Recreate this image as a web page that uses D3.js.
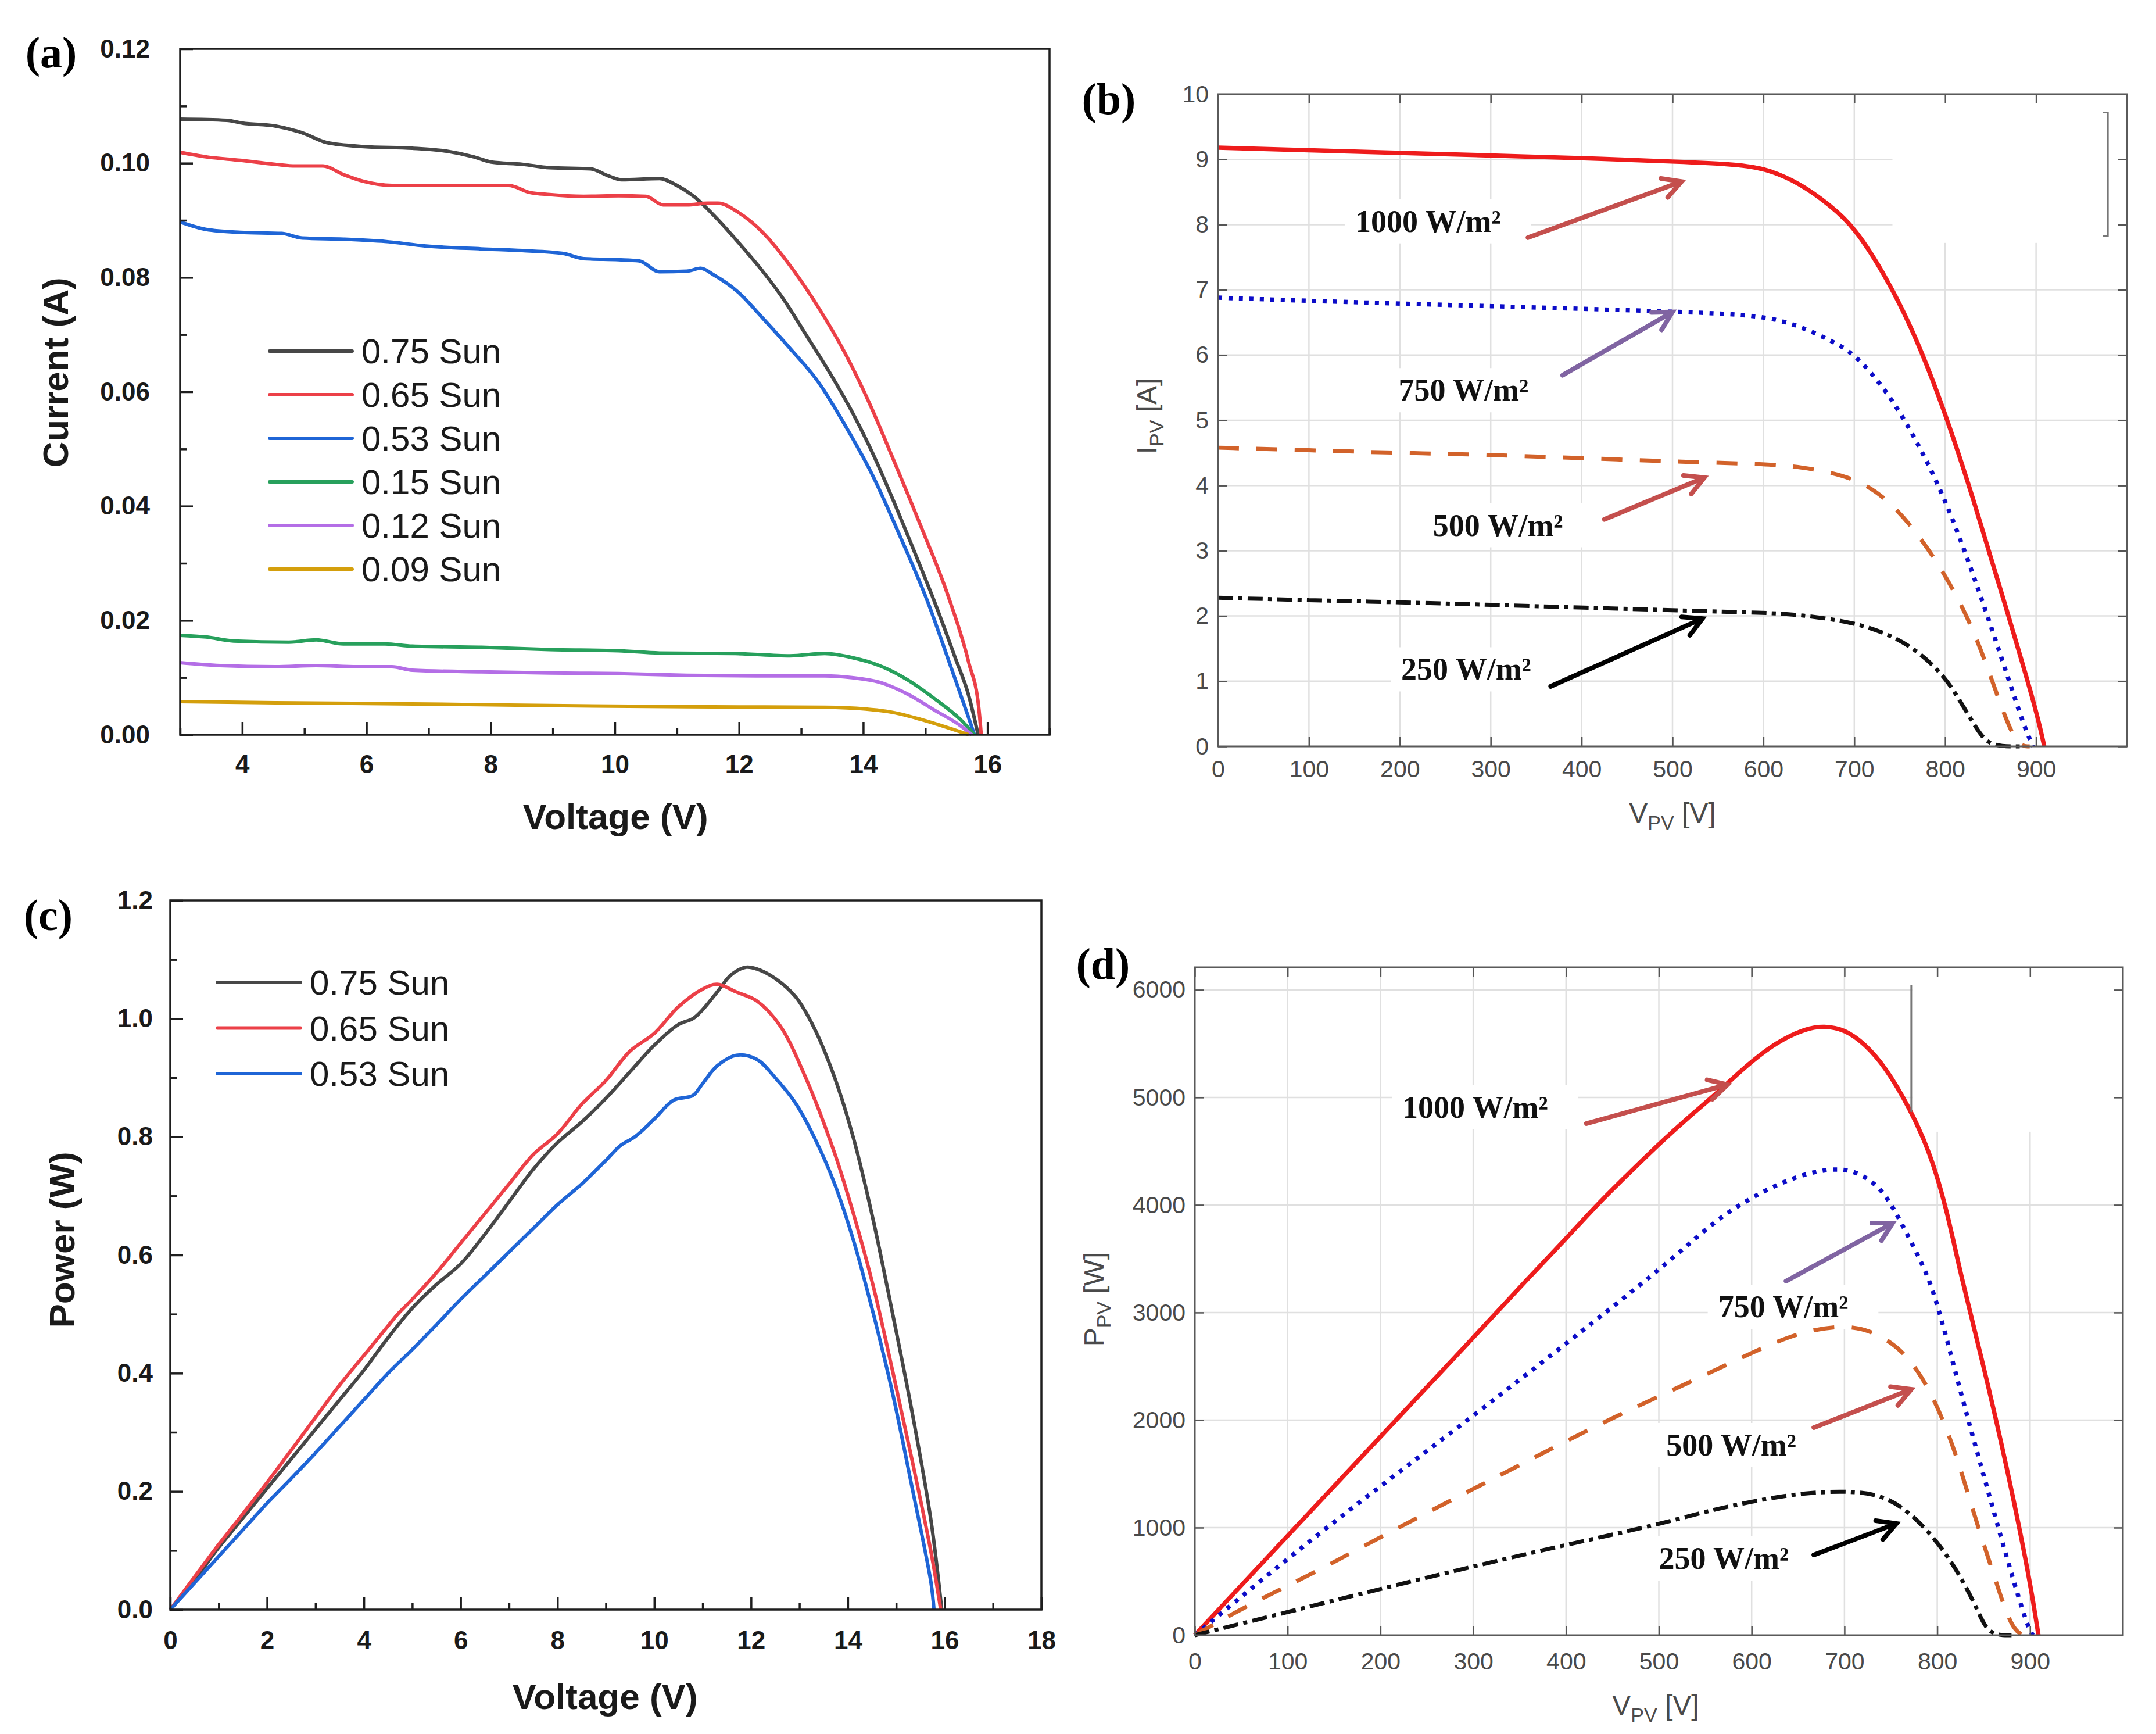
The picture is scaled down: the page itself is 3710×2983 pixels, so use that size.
<!DOCTYPE html>
<html>
<head>
<meta charset="utf-8">
<script src="https://cdn.jsdelivr.net/npm/d3@7"></script>
<style>
  body { margin: 0; background: #fff; }
  text { font-family: "Liberation Sans", Arial, sans-serif; }
  .serif { font-family: "Liberation Serif", "Times New Roman", serif; font-weight: bold; }
</style>
</head>
<body>
<svg id="fig"></svg>
<script>
// ---------------- data ----------------

// (a) I-V curves, [voltage V, current A]
var sunLabels = ["0.75 Sun", "0.65 Sun", "0.53 Sun", "0.15 Sun", "0.12 Sun", "0.09 Sun"];
var sunColors = ["#474747", "#ec4048", "#1f65d6", "#27a05c", "#b46ee6", "#d49f0c"];

var iv075 = [[3.0,0.1077],[3.75,0.1075],[4.0,0.107],[4.53,0.1065],[4.97,0.1053],[5.36,0.1036],[5.96,0.1029],[6.74,0.1026],[7.29,0.1021],[7.73,0.1011],[8.01,0.1002],[8.51,0.0998],[8.95,0.0992],[9.61,0.099],[9.89,0.0978],[10.11,0.0971],[10.72,0.0973],[11.0,0.0961],[11.27,0.0942],[11.6,0.0908],[12.0,0.086],[12.38,0.0811],[12.71,0.0763],[13.1,0.0696],[13.49,0.0628],[13.82,0.0565],[14.15,0.0493],[14.48,0.0411],[14.81,0.0324],[15.15,0.0232],[15.48,0.0135],[15.7,0.0068],[15.85,0.0]];
var iv065 = [[3.0,0.1019],[3.42,0.1011],[3.97,0.1005],[4.53,0.0998],[4.86,0.0995],[5.3,0.0995],[5.63,0.098],[5.96,0.0968],[6.41,0.0961],[6.96,0.0961],[7.85,0.0961],[8.29,0.0961],[8.62,0.0949],[8.95,0.0945],[9.5,0.0942],[10.06,0.0943],[10.5,0.0942],[10.78,0.0927],[11.16,0.0927],[11.5,0.093],[11.66,0.093],[12.0,0.0913],[12.38,0.0879],[12.82,0.0821],[13.27,0.0749],[13.71,0.0667],[14.1,0.058],[14.48,0.0483],[14.92,0.0367],[15.37,0.0242],[15.7,0.0126],[15.86,0.0048],[15.9,0.0]];
var iv053 = [[3.0,0.0897],[3.42,0.0884],[3.97,0.0879],[4.64,0.0877],[4.97,0.0869],[5.63,0.0867],[6.3,0.0863],[6.96,0.0855],[7.85,0.085],[8.51,0.0847],[9.17,0.0842],[9.5,0.0833],[10.06,0.0831],[10.39,0.0829],[10.72,0.081],[11.16,0.0811],[11.38,0.0816],[11.6,0.0804],[12.0,0.0773],[12.38,0.0729],[12.82,0.0676],[13.27,0.0618],[13.71,0.0541],[14.15,0.0454],[14.59,0.0348],[15.04,0.0232],[15.42,0.0116],[15.7,0.0029],[15.79,0.0]];
var iv015 = [[3.0,0.0174],[3.42,0.0171],[3.86,0.0164],[4.75,0.0162],[5.19,0.0166],[5.63,0.0159],[6.3,0.0159],[6.74,0.0155],[7.85,0.0153],[8.95,0.0149],[10.06,0.0147],[10.72,0.0143],[11.94,0.0142],[12.82,0.0138],[13.38,0.0142],[13.82,0.0135],[14.26,0.0121],[14.7,0.0097],[15.15,0.0063],[15.59,0.0024],[15.79,0.0]];
var iv012 = [[3.0,0.0126],[3.64,0.0121],[4.53,0.0119],[5.19,0.0121],[5.85,0.0119],[6.41,0.0119],[6.74,0.0113],[7.85,0.011],[8.95,0.0108],[10.06,0.0107],[11.16,0.0104],[12.27,0.0103],[13.38,0.0103],[13.82,0.01],[14.26,0.0092],[14.7,0.0072],[15.15,0.0043],[15.59,0.0014],[15.75,0.0]];
var iv009 = [[3.0,0.0058],[4.53,0.0056],[6.74,0.0054],[8.95,0.0051],[11.16,0.0049],[13.38,0.0048],[14.04,0.0045],[14.48,0.0039],[14.92,0.0027],[15.37,0.0012],[15.7,0.0]];

// (c) P-V curves, [voltage V, power W]
var pv075 = [[0,0],[0.5,0.05],[1,0.105],[1.5,0.155],[2,0.205],[2.5,0.255],[3,0.305],[3.5,0.355],[4,0.405],[4.5,0.46],[5,0.51],[5.5,0.55],[6,0.585],[6.5,0.635],[7,0.69],[7.5,0.745],[8,0.79],[8.5,0.825],[9,0.865],[9.5,0.91],[10,0.955],[10.5,0.99],[10.8,1.0],[11,1.015],[11.3,1.045],[11.6,1.075],[11.9,1.087],[12.12,1.084],[12.5,1.068],[12.92,1.037],[13.3,0.985],[13.72,0.902],[14.12,0.797],[14.52,0.661],[14.92,0.503],[15.32,0.338],[15.72,0.15],[15.94,0]];
var pv065 = [[0,0],[0.5,0.055],[1,0.11],[1.5,0.162],[2,0.215],[2.5,0.27],[3,0.325],[3.5,0.38],[4,0.43],[4.5,0.48],[4.7,0.5],[5,0.525],[5.5,0.57],[6,0.62],[6.5,0.67],[7,0.72],[7.5,0.77],[8,0.805],[8.5,0.855],[9,0.895],[9.5,0.945],[10,0.975],[10.5,1.02],[11,1.05],[11.3,1.058],[11.7,1.045],[12.12,1.03],[12.6,0.988],[13.12,0.902],[13.72,0.774],[14.12,0.669],[14.52,0.549],[14.92,0.406],[15.32,0.256],[15.72,0.097],[15.92,0]];
var pv053 = [[0,0],[0.5,0.045],[1,0.09],[1.5,0.135],[2,0.18],[2.5,0.222],[3,0.265],[3.5,0.31],[4,0.355],[4.5,0.4],[5,0.44],[5.5,0.482],[6,0.525],[6.5,0.565],[7,0.605],[7.5,0.645],[8,0.685],[8.5,0.72],[9,0.76],[9.3,0.785],[9.6,0.8],[10,0.83],[10.4,0.862],[10.8,0.87],[11,0.89],[11.3,0.92],[11.7,0.938],[12.12,0.931],[12.5,0.9],[12.92,0.857],[13.32,0.797],[13.72,0.722],[14.12,0.624],[14.52,0.503],[14.92,0.368],[15.32,0.21],[15.72,0.045],[15.78,0]];

// (b) simulated I-V, [V_PV, I_PV]
var irrLabels = ["1000 W/m\u00b2", "750 W/m\u00b2", "500 W/m\u00b2", "250 W/m\u00b2"];
var irrColors = ["#ee1c1c", "#0c0cc8", "#d2622a", "#111111"];
var irrDashes = [null, "7,11", "36,30", "26,9,7,9"];
var irrWidths = [7.5, 7.5, 7, 7];
var arrowColors = ["#c44f4d", "#8064a2", "#c44f4d", "#000000"];

var bI1000 = [[0,9.18],[100,9.14],[200,9.10],[300,9.06],[400,9.02],[515,8.96],[560,8.93],[600,8.88],[641,8.63],[673,8.30],[700,7.97],[736,7.18],[768,6.28],[800,5.12],[831,3.80],[863,2.31],[900,0.58],[909,0]];
var bI750 = [[0,6.88],[100,6.83],[200,6.79],[300,6.75],[400,6.71],[515,6.66],[600,6.61],[641,6.44],[673,6.23],[700,6.03],[736,5.45],[768,4.71],[800,3.80],[831,2.64],[863,1.32],[888,0.25],[897,0]];
var bI500 = [[0,4.58],[100,4.54],[200,4.50],[300,4.47],[400,4.42],[515,4.36],[600,4.33],[641,4.29],[700,4.13],[736,3.80],[768,3.30],[800,2.64],[831,1.82],[856,0.83],[878,0],[893,0]];
var bI250 = [[0,2.28],[100,2.24],[200,2.21],[300,2.17],[400,2.13],[515,2.08],[600,2.05],[641,2.02],[700,1.90],[736,1.73],[768,1.49],[800,1.07],[818,0.66],[837,0.21],[850,0],[882,0]];
// label centre [V, I] and arrow [V1, I1, V2, I2]
var bLabelPos = [[231,8.06],[270,5.47],[308,3.40],[273,1.19]];
var bArrows = [[341,7.80,510,8.66],[379,5.69,500,6.66],[425,3.48,535,4.12],[366,0.92,533,1.96]];

// (d) simulated P-V, [V_PV, P_PV]
var dP1000 = [[0,0],[100,925],[200,1845],[300,2765],[360,3327],[400,3686],[436,4027],[468,4296],[500,4566],[532,4817],[563,5041],[595,5302],[627,5517],[659,5643],[678,5664],[700,5634],[722,5499],[744,5284],[770,4907],[792,4494],[810,3970],[825,3357],[850,2503],[875,1568],[900,508],[909,0]];
var dP750 = [[0,0],[140,1000],[295,2000],[450,3050],[490,3327],[532,3632],[563,3866],[595,4045],[627,4189],[659,4296],[690,4341],[713,4314],[738,4171],[754,3955],[770,3686],[786,3417],[800,3100],[825,2259],[850,1486],[875,713],[897,80],[903,0]];
var dP500 = [[0,0],[47,230],[93,430],[133,600],[219,1000],[300,1360],[350,1580],[444,2000],[538,2370],[600,2627],[653,2827],[706,2892],[740,2789],[768,2605],[794,2259],[819,1730],[841,1081],[863,508],[882,0],[900,0]];
var dP250 = [[0,0],[100,215],[200,430],[300,640],[400,840],[500,1030],[550,1150],[600,1243],[653,1324],[715,1346],[750,1270],[778,1081],[803,838],[825,551],[844,227],[855,0],[880,0]];
var dLabelPos = [[302,4914],[634,3059],[578,1773],[570,719]];
var dArrows = [[422,4757,574,5119],[637,3292,752,3832],[667,1930,772,2286],[667,746,756,1038]];

// ticks
var aXTicks = [4, 6, 8, 10, 12, 14, 16];
var aXMinor = [3, 5, 7, 9, 11, 13, 15, 17];
var aYTicks = [0, 0.02, 0.04, 0.06, 0.08, 0.10, 0.12];
var aYMinor = [0.01, 0.03, 0.05, 0.07, 0.09, 0.11];
var cXTicks = [0, 2, 4, 6, 8, 10, 12, 14, 16, 18];
var cXMinor = [1, 3, 5, 7, 9, 11, 13, 15, 17];
var cYTicks = [0, 0.2, 0.4, 0.6, 0.8, 1.0, 1.2];
var cYMinor = [0.1, 0.3, 0.5, 0.7, 0.9, 1.1];
var simXTicks = [0, 100, 200, 300, 400, 500, 600, 700, 800, 900];
var simXGrid = [100, 200, 300, 400, 500, 600, 700, 800, 900];
var bYTicks = [0, 1, 2, 3, 4, 5, 6, 7, 8, 9, 10];
var dYTicks = [0, 1000, 2000, 3000, 4000, 5000, 6000];

// ---------------- drawing ----------------
var W = 3710, H = 2983;
var svg = d3.select("#fig").attr("width", W).attr("height", H);
svg.append("rect").attr("width", W).attr("height", H).attr("fill", "#ffffff");

function panelLetter(txt, cx, by) {
    svg.append("text").attr("class", "serif")
        .attr("x", cx).attr("y", by)
        .attr("text-anchor", "middle")
        .attr("font-size", 76)
        .text(txt);
}

// Origin style panel (a) and (c)
function drawOrigin(p) {
    var x = d3.scaleLinear().domain(p.xDomain).range([p.left, p.right]);
    var y = d3.scaleLinear().domain(p.yDomain).range([p.bottom, p.top]);
    var g = svg.append("g");

    // curves
    var line = d3.line()
        .x(function(d) { return x(d[0]); })
        .y(function(d) { return y(d[1]); })
        .curve(p.curve);
    p.series.forEach(function(s, i) {
        g.append("path")
            .attr("d", line(s))
            .attr("fill", "none")
            .attr("stroke", sunColors[i])
            .attr("stroke-width", 6)
            .attr("stroke-linejoin", "round");
    });

    // minor ticks (inward)
    g.append("g").attr("transform", "translate(0," + p.bottom + ")")
        .call(d3.axisBottom(x).tickValues(p.xMinor).tickSize(-11).tickFormat(""))
        .call(function(a) { a.select(".domain").remove(); });
    g.append("g").attr("transform", "translate(" + p.left + ",0)")
        .call(d3.axisLeft(y).tickValues(p.yMinor).tickSize(-11).tickFormat(""))
        .call(function(a) { a.select(".domain").remove(); });

    // major ticks
    g.append("g").attr("transform", "translate(0," + p.bottom + ")")
        .call(d3.axisBottom(x).tickValues(p.xTicks).tickSize(-22).tickPadding(p.xPad).tickFormat(d3.format("d")))
        .call(function(a) { a.select(".domain").remove(); });
    g.append("g").attr("transform", "translate(" + p.left + ",0)")
        .call(d3.axisLeft(y).tickValues(p.yTicks).tickSize(-22).tickPadding(p.yPad).tickFormat(d3.format(p.yFmt)))
        .call(function(a) { a.select(".domain").remove(); });

    g.selectAll(".tick line").attr("stroke", "#1e1e1e").attr("stroke-width", 3.5);
    g.selectAll(".tick text")
        .attr("font-family", "Liberation Sans, Arial, sans-serif")
        .attr("font-weight", "bold")
        .attr("font-size", 44)
        .attr("fill", "#1a1a1a");

    // frame
    g.append("rect")
        .attr("x", p.left).attr("y", p.top)
        .attr("width", p.right - p.left).attr("height", p.bottom - p.top)
        .attr("fill", "none").attr("stroke", "#1e1e1e").attr("stroke-width", 3.5);

    // legend
    p.series.forEach(function(s, i) {
        var ly = p.legendY + i * p.legendStep;
        g.append("line")
            .attr("x1", p.legendX1).attr("x2", p.legendX2)
            .attr("y1", ly).attr("y2", ly)
            .attr("stroke", sunColors[i]).attr("stroke-width", 6)
            .attr("stroke-linecap", "round");
        g.append("text")
            .attr("x", p.legendX2 + 16).attr("y", ly + 21)
            .attr("font-size", 60).attr("fill", "#1a1a1a")
            .text(sunLabels[i]);
    });

    // axis titles
    g.append("text")
        .attr("x", p.xTitle[0]).attr("y", p.xTitle[1])
        .attr("text-anchor", "middle")
        .attr("font-size", 62).attr("font-weight", "bold").attr("fill", "#1a1a1a")
        .text(p.xLabel);
    g.append("text")
        .attr("transform", "translate(" + p.yTitle[0] + "," + p.yTitle[1] + ") rotate(-90)")
        .attr("text-anchor", "middle").attr("dy", "0.35em")
        .attr("font-size", 62).attr("font-weight", "bold").attr("fill", "#1a1a1a")
        .text(p.yLabel);
}

// MATLAB style panel (b) and (d)
function drawMatlab(p) {
    var x = d3.scaleLinear().domain([0, 1000]).range([p.left, p.right]);
    var y = d3.scaleLinear().domain(p.yDomain).range([p.bottom, p.top]);
    var g = svg.append("g");
    var gridLayer = g.append("g");
    var boxLayer = g.append("g");
    var curveLayer = g.append("g");
    var axisLayer = g.append("g");
    var noteLayer = g.append("g");

    // grid
    gridLayer.selectAll("line.gx").data(simXGrid).join("line")
        .attr("x1", function(d) { return x(d); }).attr("x2", function(d) { return x(d); })
        .attr("y1", p.top).attr("y2", p.bottom)
        .attr("stroke", "#e0e0e0").attr("stroke-width", 2.5);
    gridLayer.selectAll("line.gy").data(p.yTicks.slice(1)).join("line")
        .attr("y1", function(d) { return y(d); }).attr("y2", function(d) { return y(d); })
        .attr("x1", p.left).attr("x2", p.right)
        .attr("stroke", "#e0e0e0").attr("stroke-width", 2.5);

    // blank patch left by an erased legend box, and its leftover border
    boxLayer.append("rect")
        .attr("x", x(p.blank[0])).attr("y", p.top + 2)
        .attr("width", p.right - x(p.blank[0]) - 2)
        .attr("height", y(p.blank[1]) - p.top - 2)
        .attr("fill", "#fff");
    axisLayer.append("path")
        .attr("d", p.bracketTicks
            ? "M" + (x(p.bracket[0]) - 9) + "," + y(p.bracket[1]) + "H" + x(p.bracket[0]) +
              "V" + y(p.bracket[2]) + "H" + (x(p.bracket[0]) - 9)
            : "M" + x(p.bracket[0]) + "," + y(p.bracket[1]) + "V" + y(p.bracket[2]))
        .attr("fill", "none").attr("stroke", "#777").attr("stroke-width", 3);

    // curves (smoothed)
    var line = d3.line()
        .x(function(d) { return x(d[0]); })
        .y(function(d) { return y(d[1]); })
        .curve(d3.curveBasis);
    p.series.forEach(function(s, i) {
        curveLayer.append("path")
            .attr("d", line(s))
            .attr("fill", "none")
            .attr("stroke", irrColors[i])
            .attr("stroke-width", irrWidths[i])
            .attr("stroke-dasharray", irrDashes[i]);
    });

    // axes with inward ticks on all four sides
    axisLayer.append("g").attr("transform", "translate(0," + p.bottom + ")")
        .call(d3.axisBottom(x).tickValues(simXTicks).tickSize(-16).tickPadding(p.xPad).tickFormat(d3.format("d")));
    axisLayer.append("g").attr("transform", "translate(0," + p.top + ")")
        .call(d3.axisTop(x).tickValues(simXTicks).tickSize(-16).tickFormat(""));
    axisLayer.append("g").attr("transform", "translate(" + p.left + ",0)")
        .call(d3.axisLeft(y).tickValues(p.yTicks).tickSize(-16).tickPadding(16).tickFormat(d3.format("d")));
    axisLayer.append("g").attr("transform", "translate(" + p.right + ",0)")
        .call(d3.axisRight(y).tickValues(p.yTicks).tickSize(-16).tickFormat(""));
    axisLayer.selectAll(".domain").remove();
    axisLayer.selectAll(".tick line").attr("stroke", "#555").attr("stroke-width", 2.5);
    axisLayer.selectAll(".tick text")
        .attr("font-family", "Liberation Sans, Arial, sans-serif")
        .attr("font-size", 41).attr("fill", "#4a4a4a");
    axisLayer.append("rect")
        .attr("x", p.left).attr("y", p.top)
        .attr("width", p.right - p.left).attr("height", p.bottom - p.top)
        .attr("fill", "none").attr("stroke", "#5a5a5a").attr("stroke-width", 3);

    // axis titles with subscripts
    var xt = axisLayer.append("text")
        .attr("x", p.xTitle[0]).attr("y", p.xTitle[1])
        .attr("text-anchor", "middle").attr("font-size", 48).attr("fill", "#4a4a4a");
    xt.append("tspan").text("V");
    xt.append("tspan").attr("font-size", 34).attr("dy", 12).text("PV");
    xt.append("tspan").attr("dy", -12).text(" [V]");

    var yt = axisLayer.append("text")
        .attr("transform", "translate(" + p.yTitle[0] + "," + p.yTitle[1] + ") rotate(-90)")
        .attr("text-anchor", "middle").attr("dy", "0.35em")
        .attr("font-size", 48).attr("fill", "#4a4a4a");
    yt.append("tspan").text(p.yName);
    yt.append("tspan").attr("font-size", 34).attr("dy", 12).text("PV");
    yt.append("tspan").attr("dy", -12).text(" [" + p.yUnit + "]");

    // annotations: label in a white box, plus arrow
    p.labels.forEach(function(pos, i) {
        var t = noteLayer.append("text").attr("class", "serif")
            .attr("x", x(pos[0])).attr("y", y(pos[1]) + 19)
            .attr("text-anchor", "middle")
            .attr("font-size", 54).attr("fill", "#111")
            .text(irrLabels[i]);
        var bb = t.node().getBBox();
        boxLayer.append("rect")
            .attr("x", bb.x - 18).attr("y", bb.y - 8)
            .attr("width", bb.width + 70).attr("height", bb.height + 16)
            .attr("fill", "#fff");

        var a = p.arrows[i];
        var x1 = x(a[0]), y1 = y(a[1]), x2 = x(a[2]), y2 = y(a[3]);
        var ang = Math.atan2(y2 - y1, x2 - x1), L = 36, sp = 0.5;
        noteLayer.append("line")
            .attr("x1", x1).attr("y1", y1).attr("x2", x2 - 4 * Math.cos(ang)).attr("y2", y2 - 4 * Math.sin(ang))
            .attr("stroke", arrowColors[i]).attr("stroke-width", 8).attr("stroke-linecap", "round");
        noteLayer.append("polyline")
            .attr("points", [
                [x2 - L * Math.cos(ang - sp), y2 - L * Math.sin(ang - sp)],
                [x2, y2],
                [x2 - L * Math.cos(ang + sp), y2 - L * Math.sin(ang + sp)]
            ].join(" "))
            .attr("fill", "none").attr("stroke", arrowColors[i])
            .attr("stroke-width", 8).attr("stroke-linejoin", "miter").attr("stroke-linecap", "round");
    });
}

drawOrigin({
    left: 310, right: 1806, top: 84, bottom: 1264,
    xDomain: [3, 17], yDomain: [0, 0.12],
    xTicks: aXTicks, xMinor: aXMinor, yTicks: aYTicks, yMinor: aYMinor,
    yFmt: ".2f", xPad: 35, yPad: 52, curve: d3.curveMonotoneX,
    series: [iv075, iv065, iv053, iv015, iv012, iv009],
    legendX1: 464, legendX2: 606, legendY: 604, legendStep: 75,
    xLabel: "Voltage (V)", yLabel: "Current (A)",
    xTitle: [1059, 1426], yTitle: [95, 641]
});

drawOrigin({
    left: 293, right: 1792, top: 1549, bottom: 2769,
    xDomain: [0, 18], yDomain: [0, 1.2],
    xTicks: cXTicks, xMinor: cXMinor, yTicks: cYTicks, yMinor: cYMinor,
    yFmt: ".1f", xPad: 37, yPad: 30, curve: d3.curveCatmullRom.alpha(0.5),
    series: [pv075, pv065, pv053],
    legendX1: 374, legendX2: 517, legendY: 1690, legendStep: 78.5,
    xLabel: "Voltage (V)", yLabel: "Power (W)",
    xTitle: [1041, 2940], yTitle: [106, 2133]
});

drawMatlab({
    left: 2096, right: 3660, top: 162, bottom: 1284,
    yDomain: [0, 10], yTicks: bYTicks, xPad: 24,
    series: [bI1000, bI750, bI500, bI250],
    labels: bLabelPos, arrows: bArrows,
    blank: [742, 7.72], bracket: [979, 9.72, 7.82], bracketTicks: true,
    yName: "I", yUnit: "A",
    xTitle: [2878, 1415], yTitle: [1973, 716]
});

drawMatlab({
    left: 2056, right: 3653, top: 1664, bottom: 2813,
    yDomain: [0, 6210], yTicks: dYTicks, xPad: 30,
    series: [dP1000, dP750, dP500, dP250],
    labels: dLabelPos, arrows: dArrows,
    blank: [773, 4681], bracket: [772, 6043, 4865], bracketTicks: false,
    yName: "P", yUnit: "W",
    xTitle: [2849, 2950], yTitle: [1882, 2235]
});

panelLetter("(a)", 88, 116);
panelLetter("(b)", 1908, 196);
panelLetter("(c)", 83, 1600);
panelLetter("(d)", 1898, 1684);
</script>
</body>
</html>
